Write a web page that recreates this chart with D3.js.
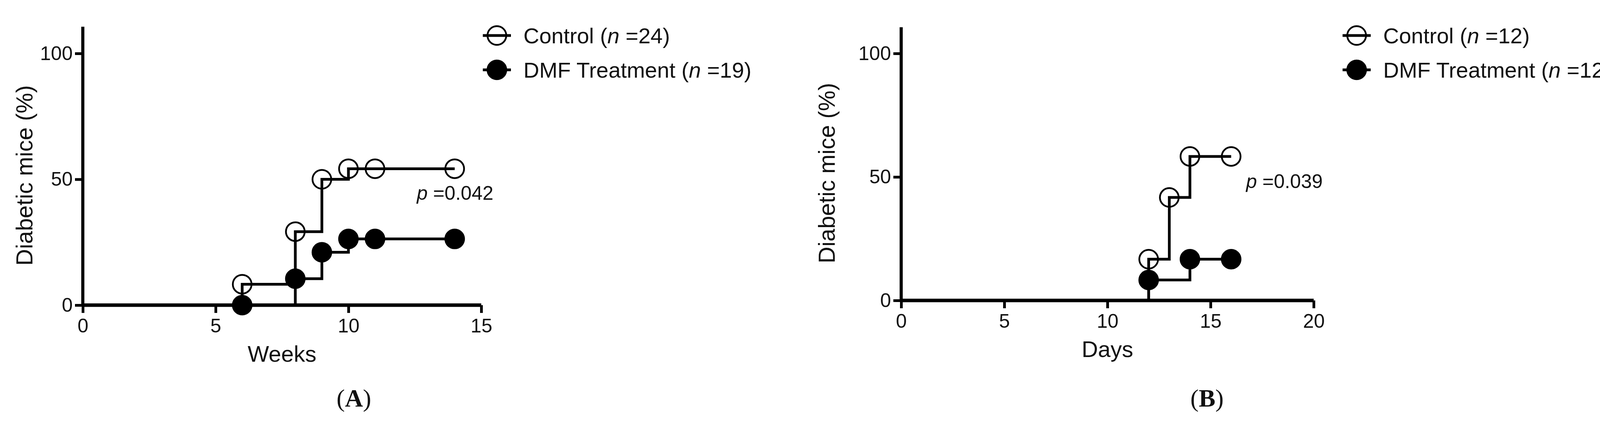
<!DOCTYPE html>
<html>
<head>
<meta charset="utf-8">
<script src="https://cdn.jsdelivr.net/npm/d3@7"></script>
<style>
  body { margin: 0; background: #fff; }
  text { font-family: "Liberation Sans", Arial, sans-serif; fill: #111; }
</style>
</head>
<body>
<script>
// Panel A (weeks)
var weeksA = [6, 8, 9, 10, 11, 14];
var controlA = [8.3, 29.2, 50, 54.2, 54.2, 54.2];
var dmfA = [0, 10.5, 21, 26.3, 26.3, 26.3];
// Panel B (days)
var daysB = [12, 13, 14, 16];
var controlB = [16.7, 41.7, 58.3, 58.3];
var daysDmfB = [12, 14, 16];
var dmfB = [8.3, 16.7, 16.7];
var yTicks = [0, 50, 100];

var svg = d3.select('body').append('svg')
  .attr('width', 4162).attr('height', 1102);

function drawPanel(o) {
  var x = d3.scaleLinear().domain([0, o.xmax]).range([o.x0, o.x1]);
  var y = d3.scaleLinear().domain([0, 100]).range([o.y0, o.y100]);
  var g = svg.append('g');

  // Axes
  var xa = g.append('g').attr('transform', 'translate(0,' + o.y0 + ')')
    .call(d3.axisBottom(x).tickValues(o.xticks).tickSize(20).tickPadding(14).tickFormat(d3.format('d')));
  var ya = g.append('g').attr('transform', 'translate(' + o.x0 + ',0)')
    .call(d3.axisLeft(y).tickValues(yTicks).tickSize(20).tickPadding(6));
  [xa, ya].forEach(function(a) {
    a.selectAll('.domain').remove();
    a.selectAll('line').attr('stroke', '#000').attr('stroke-width', 7);
    a.selectAll('text').style('font-size', '50px').attr('fill', '#111');
  });
  g.append('line').attr('x1', o.x0).attr('x2', o.x1).attr('y1', o.y0).attr('y2', o.y0)
    .attr('stroke', '#000').attr('stroke-width', 9);
  g.append('line').attr('x1', o.x0).attr('x2', o.x0).attr('y1', o.y0 + 4).attr('y2', y(110) - 4)
    .attr('stroke', '#000').attr('stroke-width', 8);

  // Step curves
  var line = d3.line().x(function(d) { return x(d[0]); }).y(function(d) { return y(d[1]); })
    .curve(d3.curveStepAfter);
  function drawSeries(xs, ys, filled) {
    var pts = [[xs[0], 0]].concat(xs.map(function(v, i) { return [v, ys[i]]; }));
    g.append('path').attr('d', line(pts)).attr('fill', 'none')
      .attr('stroke', '#000').attr('stroke-width', 7);
    g.selectAll(null).data(xs).enter().append('circle')
      .attr('cx', function(d) { return x(d); })
      .attr('cy', function(d, i) { return y(ys[i]); })
      .attr('r', 24)
      .attr('fill', filled ? '#000' : 'none')
      .attr('stroke', '#000').attr('stroke-width', 4.5);
  }
  drawSeries(o.ctrlX, o.ctrlY, false);
  drawSeries(o.dmfX, o.dmfY, true);

  // Labels
  g.append('text').attr('x', (o.x0 + o.x1) / 2).attr('y', o.y0 + 145)
    .attr('text-anchor', 'middle').style('font-size', '58px').text(o.xlabel);
  g.append('text').attr('transform', 'translate(' + o.ylabX + ',' + ((o.y0 + o.y100) / 2 - 10) + ') rotate(-90)')
    .attr('text-anchor', 'middle').attr('dy', '0.35em').style('font-size', '59px').text('Diabetic mice (%)');
  var pt = g.append('text').attr('x', o.px).attr('y', o.py).style('font-size', '50px');
  pt.append('tspan').style('font-style', 'italic').text('p');
  pt.append('tspan').text(' =' + o.p);
  g.append('text').attr('x', o.titleX).attr('y', 1042).attr('text-anchor', 'middle')
    .style('font-family', '"Liberation Serif", "Times New Roman", serif').style('font-size', '64px')
    .html('(<tspan font-weight="bold">' + o.title + '</tspan>)');

  // Legend
  o.legend.forEach(function(item, i) {
    var ly = 91 + i * 88;
    g.append('line').attr('x1', o.legX - 36).attr('x2', o.legX + 36).attr('y1', ly).attr('y2', ly)
      .attr('stroke', '#000').attr('stroke-width', 7);
    g.append('circle').attr('cx', o.legX).attr('cy', ly).attr('r', 24)
      .attr('fill', item.filled ? '#000' : 'none').attr('stroke', '#000').attr('stroke-width', 4.5);
    var t = g.append('text').attr('x', o.legX + 68).attr('y', ly).attr('dy', '0.35em').style('font-size', '56px');
    t.append('tspan').text(item.name + ' (');
    t.append('tspan').style('font-style', 'italic').text('n');
    t.append('tspan').text(' =' + item.n + ')');
  });
}

drawPanel({
  x0: 212, x1: 1232, y0: 782, y100: 137, xmax: 15, xticks: [0, 5, 10, 15],
  ctrlX: weeksA, ctrlY: controlA, dmfX: weeksA, dmfY: dmfA,
  xlabel: 'Weeks', ylabX: 62, px: 1067, py: 512, p: '0.042', title: 'A', titleX: 906,
  legX: 1272, legend: [{ name: 'Control', n: 24, filled: false }, { name: 'DMF Treatment', n: 19, filled: true }]
});
drawPanel({
  x0: 2307, x1: 3363, y0: 770, y100: 137, xmax: 20, xticks: [0, 5, 10, 15, 20],
  ctrlX: daysB, ctrlY: controlB, dmfX: daysDmfB, dmfY: dmfB,
  xlabel: 'Days', ylabX: 2116, px: 3190, py: 482, p: '0.039', title: 'B', titleX: 3090,
  legX: 3473, legend: [{ name: 'Control', n: 12, filled: false }, { name: 'DMF Treatment', n: 12, filled: true }]
});
</script>
</body>
</html>
